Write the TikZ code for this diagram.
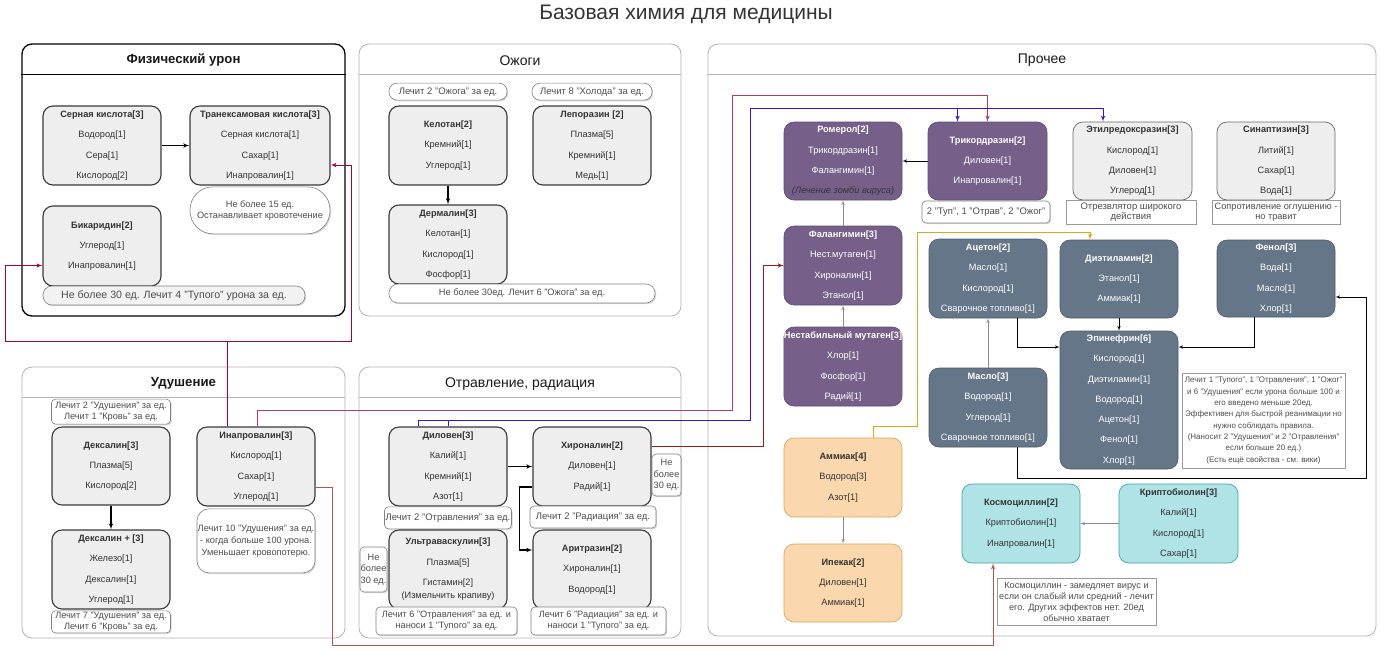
\documentclass[tikz,border=0pt]{standalone}
\usepackage{fontspec}
\setmainfont{Liberation Sans}
\usepackage{tikz}
\usetikzlibrary{arrows,positioning,shadows}

\definecolor{chemfill}{HTML}{EEEEEE}
\definecolor{chemline}{HTML}{36393D}
\definecolor{violetfill}{HTML}{76608A}
\definecolor{violetline}{HTML}{5E4A72}
\definecolor{slatefill}{HTML}{647687}
\definecolor{slateline}{HTML}{4B5B6B}
\definecolor{peachfill}{HTML}{FAD7AC}
\definecolor{peachline}{HTML}{E0A75E}
\definecolor{tealfill}{HTML}{B0E3E6}
\definecolor{tealline}{HTML}{3AA6AB}
\definecolor{inktext}{HTML}{333333}
\definecolor{notetext}{HTML}{4D4D4D}
\definecolor{laneline}{HTML}{B3B3B3}
\definecolor{wirecrimson}{HTML}{A50040}
\definecolor{wirerose}{HTML}{B83A62}
\definecolor{wireblue}{HTML}{3B0FE0}
\definecolor{wiremaroon}{HTML}{9A1B1B}
\definecolor{wiresalmon}{HTML}{B85450}
\definecolor{wireamber}{HTML}{E8A317}

\begin{document}
\begin{tikzpicture}[x=1pt,y=-1pt,>=latex',
  chem/.style={rectangle,rounded corners=10pt,draw=chemline,line width=1.1pt,fill=chemfill,text=inktext,inner sep=0pt,minimum width=118pt,minimum height=79pt,align=center,font=\fontsize{9.2}{20.3}\selectfont},
  chemlight/.style={chem,draw=black!60,line width=0.7pt},
  chemviolet/.style={chem,draw=violetline,line width=0.6pt,fill=violetfill,text=white},
  chemslate/.style={chem,draw=slateline,line width=0.6pt,fill=slatefill,text=white},
  chempeach/.style={chem,draw=peachline,line width=0.7pt,fill=peachfill},
  chemteal/.style={chem,draw=tealline,line width=0.7pt,fill=tealfill},
  tagnote/.style={rectangle,rounded corners=4pt,draw=black!50,line width=0.6pt,fill=white,text=notetext,inner sep=1pt,align=center,font=\fontsize{9.2}{11}\selectfont,drop shadow={shadow xshift=1.2pt,shadow yshift=-1.2pt,opacity=0.3}},
  pillnote/.style={tagnote,rounded corners=8pt,font=\fontsize{9.5}{11.5}\selectfont},
  boxnote/.style={tagnote,rounded corners=0pt,draw=black!40},
  panelbox/.style={rectangle,rounded corners=10pt,draw=laneline,line width=0.8pt,fill=white,inner sep=0pt},
  paneltitle/.style={font=\fontsize{14}{16}\selectfont,text=black!90},
  link/.style={->,line width=1.1pt,black},
  linkthin/.style={->,line width=0.6pt,black},
  linkgray/.style={->,line width=0.6pt,black!45},
  wire/.style={->,line width=1pt}]

\fill[white] (0,0) rectangle (1380,651);
\useasboundingbox (0,0) rectangle (1380,651);

\node[font=\fontsize{21}{25}\selectfont,text=inktext] (title) at (686,14) {Базовая химия для медицины};

% panels
\node[panelbox,draw=black,line width=1.3pt,minimum width=323pt,minimum height=272pt] (fiz) at (183.5,180) {};
\draw[black,line width=1.3pt] ([yshift=-31pt]fiz.north west) -- ([yshift=-31pt]fiz.north east);
\node[paneltitle,font=\fontsize{13.2}{16}\selectfont\bfseries] (fizT) at ([yshift=-17pt]fiz.north) {Физический урон};

\node[panelbox,minimum width=322pt,minimum height=272pt] (ozh) at (520,180) {};
\draw[laneline,line width=0.8pt] ([yshift=-31pt]ozh.north west) -- ([yshift=-31pt]ozh.north east);
\node[paneltitle] (ozhT) at ([yshift=-17pt]ozh.north) {Ожоги};

\node[panelbox,minimum width=323pt,minimum height=271pt] (udu) at (183.5,502.5) {};
\draw[laneline,line width=0.8pt] ([yshift=-31pt]udu.north west) -- ([yshift=-31pt]udu.north east);
\node[paneltitle,font=\fontsize{13.2}{16}\selectfont\bfseries] (uduT) at ([yshift=-17pt]udu.north) {Удушение};

\node[panelbox,minimum width=322pt,minimum height=271pt] (otr) at (520,502.5) {};
\draw[laneline,line width=0.8pt] ([yshift=-31pt]otr.north west) -- ([yshift=-31pt]otr.north east);
\node[paneltitle] (otrT) at ([yshift=-17pt]otr.north) {Отравление, радиация};

\node[panelbox,minimum width=668pt,minimum height=592pt] (pro) at (1042,340) {};
\draw[laneline,line width=0.8pt] ([yshift=-31pt]pro.north west) -- ([yshift=-31pt]pro.north east);
\node[paneltitle] (proT) at ([yshift=-17pt]pro.north) {Прочее};

% Физический урон
\node[chem] (sern) at (102,145.5) {\textbf{Серная кислота[3]}\\Водород[1]\\Сера[1]\\Кислород[2]};
\node[chem,minimum width=140pt] (tran) at (260,145.5) {\textbf{Транексамовая кислота[3]}\\Серная кислота[1]\\Сахар[1]\\Инапровалин[1]};
\node[pillnote,minimum width=140pt,minimum height=47pt,rounded corners=23pt,font=\fontsize{9.2}{11.5}\selectfont] (tranN) [below=1pt of tran] {Не более 15 ед.\\Останавливает кровотечение};
\node[chem,minimum height=80pt] (bikar) at (102,246) {\textbf{Бикаридин[2]}\\Углерод[1]\\Инапровалин[1]};
\node[pillnote,minimum width=262pt,minimum height=19pt,rounded corners=9pt,fill=black!5,font=\fontsize{10.6}{12}\selectfont] (bikarN) at (174,295.5) {Не более 30 ед. Лечит 4 "Тупого" урона за ед.};

% Ожоги
\node[chem] (kel) at (448,145.5) {\textbf{Келотан[2]}\\Кремний[1]\\Углерод[1]};
\node[pillnote,minimum width=118pt,minimum height=17pt] (kelN) [above=5pt of kel] {Лечит 2 "Ожога" за ед.};
\node[chem] (lep) at (592,145.5) {\textbf{Лепоразин [2]}\\Плазма[5]\\Кремний[1]\\Медь[1]};
\node[pillnote,minimum width=120pt,minimum height=17pt] (lepN) [above=5pt of lep] {Лечит 8 "Холода" за ед.};
\node[chem] (derm) at (448,244.5) {\textbf{Дермалин[3]}\\Келотан[1]\\Кислород[1]\\Фосфор[1]};
\node[pillnote,minimum width=266pt,minimum height=19pt,rounded corners=9pt,font=\fontsize{9.3}{11}\selectfont] (dermN) at (522,293.5) {Не более 30ед. Лечит 6 "Ожога" за ед.};

% Удушение
\node[chem,minimum height=78pt] (dex) at (111,466) {\textbf{Дексалин[3]}\\Плазма[5]\\Кислород[2]};
\node[tagnote,minimum width=119pt,minimum height=25pt] (dexN) [above=2pt of dex] {Лечит 2 "Удушения" за ед.\\Лечит 1 "Кровь" за ед.};
\node[chem] (dexp) at (111,569.5) {\textbf{Дексалин + [3]}\\Железо[1]\\Дексалин[1]\\Углерод[1]};
\node[tagnote,minimum width=119pt,minimum height=22pt] (dexpN) [below=1pt of dexp] {Лечит 7 "Удушения" за ед.\\Лечит 6 "Кровь" за ед.};
\node[chem] (inap) at (256,466.5) {\textbf{Инапровалин[3]}\\Кислород[1]\\Сахар[1]\\Углерод[1]};
\node[tagnote,minimum width=118pt,minimum height=64pt,rounded corners=12pt,inner sep=0pt,font=\fontsize{9.2}{12}\selectfont] (inapN) [below=2pt of inap] {Лечит 10 "Удушения" за ед.\\- когда больше 100 урона.\\Уменьшает кровопотерю.};

% Отравление, радиация
\node[chem] (dil) at (448,466.5) {\textbf{Диловен[3]}\\Калий[1]\\Кремний[1]\\Азот[1]};
\node[tagnote,minimum width=127pt,minimum height=22pt,font=\fontsize{9.5}{11}\selectfont] (dilN) [below=0pt of dil] {Лечит 2 "Отравления" за ед.};
\node[chem] (hir) at (592,466.5) {\textbf{Хироналин[2]}\\Диловен[1]\\Радий[1]};
\node[tagnote,minimum width=126pt,minimum height=22pt,font=\fontsize{9.5}{11}\selectfont] (hirN) at (593,517) {Лечит 2 "Радиация" за ед.};
\node[tagnote,minimum width=29pt,minimum height=42pt,inner sep=0pt,font=\fontsize{9.2}{11.5}\selectfont] (hirS) at (666.5,475) {Не\\более\\30 ед.};
\node[chem] (ultra) at (448,569.5) {\textbf{Ультраваскулин[3]}\\Плазма[5]\\Гистамин[2]\\[-7pt](Измельчить крапиву)};
\node[tagnote,minimum width=27pt,minimum height=45pt,inner sep=0pt,font=\fontsize{9.2}{11.5}\selectfont] (ultraS) at (373.5,569.5) {Не\\более\\30 ед.};
\node[chem] (arit) at (592,569.5) {\textbf{Аритразин[2]}\\Хироналин[1]\\Водород[1]};
\node[tagnote,minimum width=141pt,minimum height=28pt] (ultraN) at (446.5,621) {Лечит 6 "Отравления" за ед. и\\наноси 1 "Тупого" за ед.};
\node[tagnote,minimum width=135pt,minimum height=28pt] (aritN) at (598.5,621) {Лечит 6 "Радиация" за ед. и\\наноси 1 "Тупого" за ед.};

% Прочее
\node[chemviolet,minimum height=78pt] (romer) at (843,161) {\textbf{Ромерол[2]}\\Трикордразин[1]\\Фалангимин[1]\\{\color{inktext}\itshape(Лечение зомби вируса)}};
\node[chemviolet,minimum width=119pt,minimum height=78pt] (trik) at (987.5,161) {\textbf{Трикордразин[2]}\\Диловен[1]\\Инапровалин[1]};
\node[tagnote,minimum width=128pt,minimum height=22pt,font=\fontsize{9.5}{11}\selectfont] (trikN) at (986,212) {2 "Туп", 1 "Отрав", 2 "Ожог"};
\node[chemlight,minimum width=119pt,minimum height=78pt] (etil) at (1132.5,161) {\textbf{Этилредоксразин[3]}\\Кислород[1]\\Диловен[1]\\Углерод[1]};
\node[boxnote,minimum width=130pt,minimum height=24pt,font=\fontsize{9.5}{10.5}\selectfont] (etilN) at (1131,212) {Отрезвлятор широкого\\действия};
\node[chemlight,minimum height=78pt] (sinap) at (1276,161) {\textbf{Синаптизин[3]}\\Литий[1]\\Сахар[1]\\Вода[1]};
\node[boxnote,minimum width=128pt,minimum height=24pt,font=\fontsize{9.2}{10.5}\selectfont] (sinapN) at (1276,212) {Сопротивление оглушению -\\но травит};
\node[chemviolet] (fal) at (843,265.5) {\textbf{Фалангимин[3]}\\Нест.мутаген[1]\\Хироналин[1]\\Этанол[1]};
\node[chemviolet] (nest) at (843,366.5) {\textbf{Нестабильный мутаген[3]}\\Хлор[1]\\Фосфор[1]\\Радий[1]};
\node[chempeach] (amm) at (843,477.5) {\textbf{Аммиак[4]}\\Водород[3]\\Азот[1]};
\node[chempeach,minimum height=78pt] (ipek) at (843,583) {\textbf{Ипекак[2]}\\Диловен[1]\\Аммиак[1]};
\node[chemslate] (acet) at (988,278.5) {\textbf{Ацетон[2]}\\Масло[1]\\Кислород[1]\\Сварочное топливо[1]};
\node[chemslate,minimum height=78pt] (diet) at (1119,279) {\textbf{Диэтиламин[2]}\\Этанол[1]\\Аммиак[1]};
\node[chemslate,minimum height=77pt] (fenol) at (1276,278.5) {\textbf{Фенол[3]}\\Вода[1]\\Масло[1]\\Хлор[1]};
\node[chemslate] (maslo) at (988,407.5) {\textbf{Масло[3]}\\Водород[1]\\Углерод[1]\\Сварочное топливо[1]};
\node[chemslate,minimum height=138pt] (epin) at (1119,400) {\textbf{Эпинефрин[6]}\\Кислород[1]\\Диэтиламин[1]\\Водород[1]\\Ацетон[1]\\Фенол[1]\\Хлор[1]};
\node[boxnote,minimum width=163pt,minimum height=95pt,font=\fontsize{8}{11.3}\selectfont] (epinN) at (1263.5,420.5) {Лечит 1 "Тупого", 1 "Отравления", 1 "Ожог"\\и 6 "Удушения" если урона больше 100 и\\его введено меньше 20ед.\\Эффективен для быстрой реанимации но\\нужно соблюдать правила.\\(Наносит 2 "Удушения" и 2 "Отравления"\\если больше 20 ед.)\\(Есть ещё свойства - см. вики)};
\node[chemteal] (kosm) at (1021,523.5) {\textbf{Космоциллин[2]}\\Криптобиолин[1]\\Инапровалин[1]};
\node[chemteal,minimum width=119pt] (krip) at (1178.5,523.5) {\textbf{Криптобиолин[3]}\\Калий[1]\\Кислород[1]\\Сахар[1]};
\node[boxnote,minimum width=159pt,minimum height=47pt,font=\fontsize{9.1}{11}\selectfont] (kosmN) at (1076.5,601.5) {Космоциллин - замедляет вирус и\\если он слабый или средний - лечит\\его. Других эффектов нет. 20ед\\обычно хватает};

% arrows inside panels
\draw[link] (sern) -- (tran);
\draw[link] (kel) -- (derm);
\draw[link] (dex) -- (dexp);
\draw[link] (dil) -- (hir);
\draw[link] ([yshift=-20.5pt]hir.west) -- ++(-13pt,0pt) |- ([yshift=19.5pt]arit.west);

\draw[linkthin] (trik) -- (romer);
\draw[linkgray] (fal) -- (romer);
\draw[linkgray] (nest) -- (fal);
\draw[linkgray] (amm) -- (ipek);
\draw[linkgray] (maslo) -- (acet);
\draw[linkthin] ([xshift=29pt]acet.south) |- ([yshift=53pt]epin.west);
\coordinate (fenolWire) at (1366,478);
\draw[linkthin] ([xshift=29pt]maslo.south) |- (fenolWire) |- ([yshift=-18.5pt]fenol.east);
\draw[linkthin] ([xshift=-22pt]fenol.south) |- ([yshift=53pt]epin.east);
\draw[linkthin] (diet) -- (epin);
\draw[linkgray] (krip) -- (kosm);

% long wires
\coordinate (wireL) at (5,341);
\coordinate (wireR) at (351,341);
\draw[wire,wirecrimson] ([xshift=-29pt]inap.north) |- (wireL) |- ([yshift=-19.5pt]bikar.west);
\draw[wire,wirecrimson] ([xshift=-29pt]inap.north) |- (wireR) |- ([yshift=-19.5pt]tran.east);

\coordinate (roseA) at (732,410);
\coordinate (roseB) at (732,95);
\draw[wire,wirerose] ([xshift=1pt]inap.north) |- (roseA) -- (roseB) -| (trik.north);

\coordinate (blueA) at (750,420);
\coordinate (blueB) at (750,108);
\draw[wire,wireblue] ([xshift=-30pt]dil.north) |- (blueA) -- (blueB) -| ([xshift=-30pt]trik.north);
\draw[wire,wireblue] (dil.north) |- (blueA) -- (blueB) -| ([xshift=-29.5pt]etil.north);

\coordinate (maroonA) at (763,265.5);
\draw[wire,wiremaroon] ([yshift=20pt]hir.east) -| (maroonA) -- (fal.west);

\coordinate (salmonA) at (332,645);
\draw[wire,wiresalmon] ([yshift=-20.5pt]inap.east) -| (salmonA) -| ([xshift=-28pt]kosm.south);

\coordinate (amberA) at (917,426);
\coordinate (amberB) at (917,232);
\draw[wire,wireamber] ([xshift=30pt]amm.north) |- (amberA) -- (amberB) -| ([xshift=-29pt]diet.north);
\end{tikzpicture}
\end{document}
